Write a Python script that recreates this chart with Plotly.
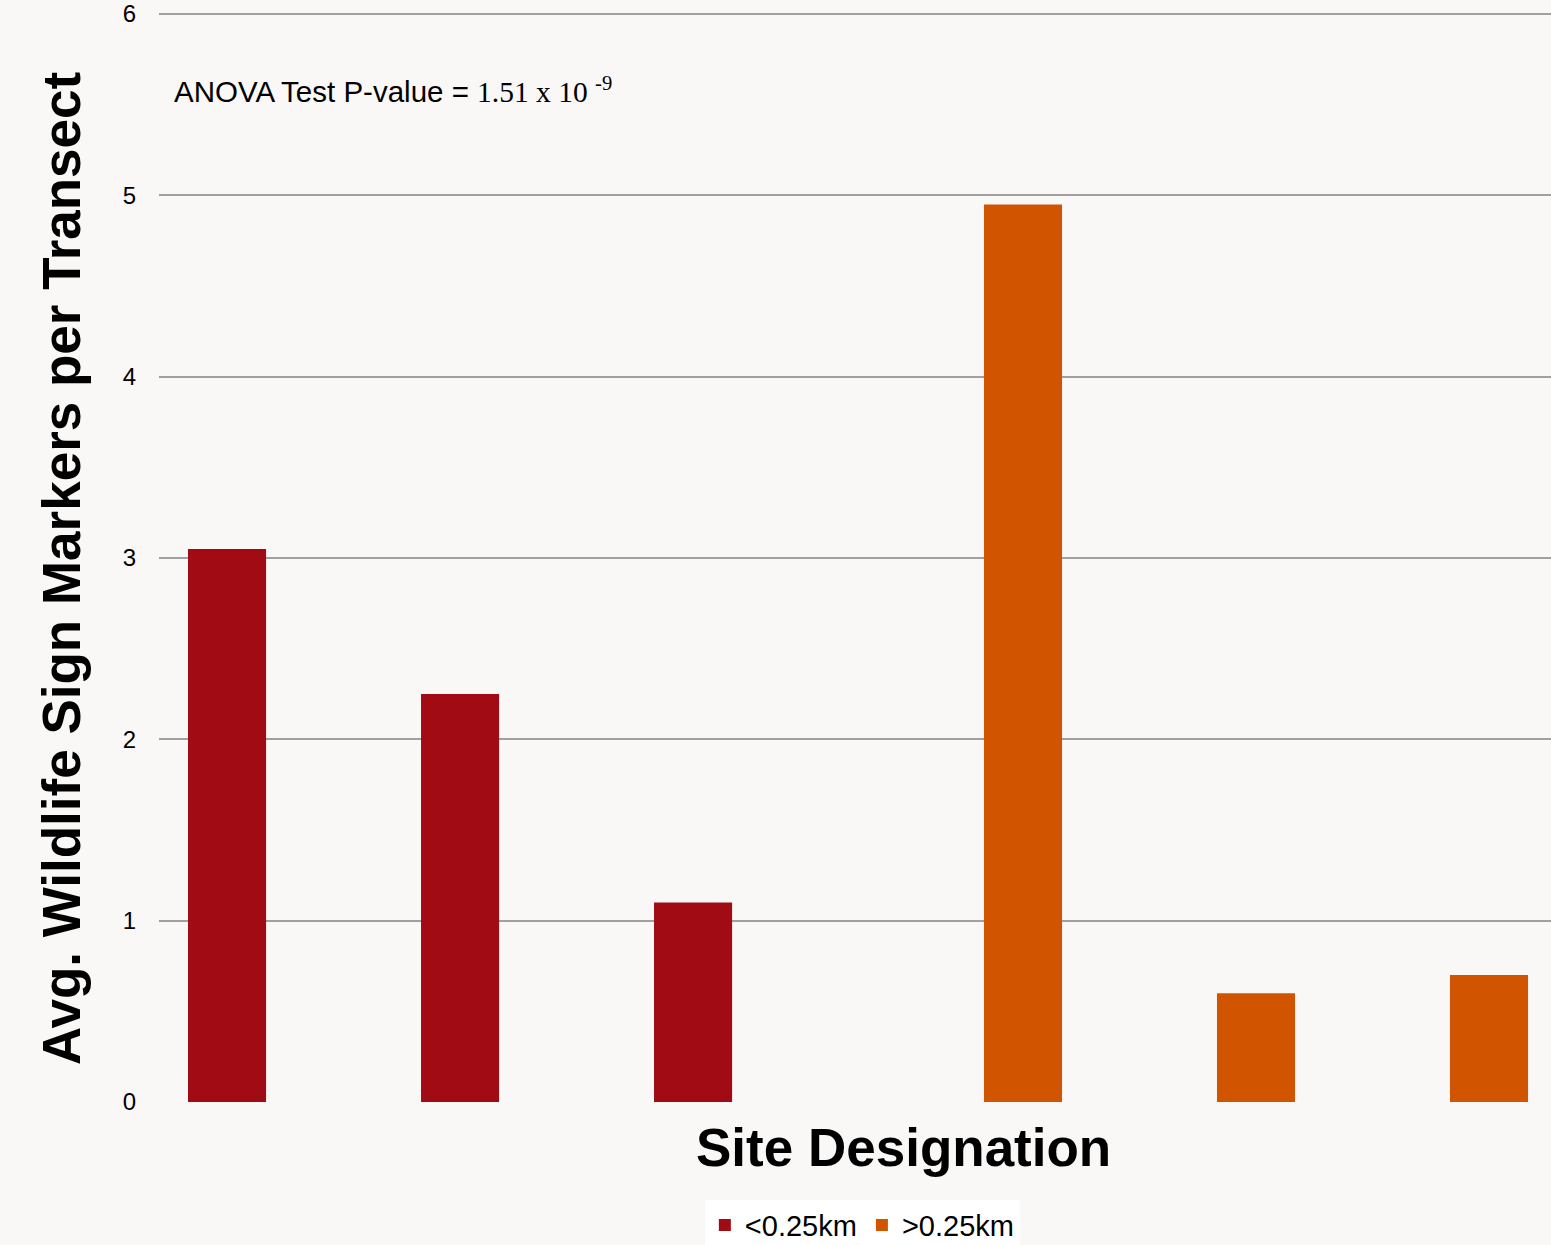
import plotly.graph_objects as go

sites = ["S1", "S2", "S3", "S4", "S5", "S6"]
near_sites = ["S1", "S2", "S3"]
near_values = [3.05, 2.25, 1.10]
far_sites = ["S4", "S5", "S6"]
far_values = [4.95, 0.60, 0.70]
y_ticks = [0, 1, 2, 3, 4, 5, 6]

BG = "#f9f8f7"
FONT = "Liberation Sans, Arial, sans-serif"
BAR_W = 0.335

fig = go.Figure()
fig.add_trace(go.Bar(x=near_sites, y=near_values, name="<0.25km",
                     width=BAR_W, offset=-0.3755,
                     marker=dict(color="#a10c14", line=dict(width=0))))
fig.add_trace(go.Bar(x=far_sites, y=far_values, name=">0.25km",
                     width=BAR_W, offset=0.0405,
                     marker=dict(color="#d15400", line=dict(width=0))))

fig.update_layout(
    width=1551, height=1245,
    margin=dict(l=159, r=0, t=10, b=143),
    paper_bgcolor=BG, plot_bgcolor=BG,
    barmode="overlay",
    font=dict(family=FONT, color="#000000"),
    showlegend=True,
    legend=dict(orientation="h", x=0.556, xref="container", xanchor="center",
                y=0.016, yref="container", yanchor="middle",
                font=dict(size=29, family=FONT), bgcolor="#ffffff"),
    xaxis=dict(type="category", categoryorder="array", categoryarray=sites,
               range=[-0.5, 5.474], showticklabels=False, showgrid=False,
               zeroline=False, showline=False, ticks=""),
    yaxis=dict(range=[0, 6.011], tickvals=y_ticks, showgrid=True,
               gridcolor="#a0a0a0", gridwidth=2, zeroline=False,
               showline=False, ticks="", ticklabelstandoff=22,
               ticklabeloverflow="allow",
               tickfont=dict(size=24, family=FONT, color="#000000")),
    annotations=[
        dict(text="<b>Avg. Wildlife Sign Markers per Transect</b>",
             xref="paper", yref="paper", x=-0.0697, y=0.49,
             xanchor="center", yanchor="middle", textangle=-90,
             showarrow=False, font=dict(size=53, family=FONT)),
        dict(text="<b>Site Designation</b>", xref="paper", yref="paper",
             x=0.5345, y=-0.042, xanchor="center", yanchor="middle",
             showarrow=False, font=dict(size=53, family=FONT)),
        dict(text='ANOVA Test P-value = <span style="font-family:Liberation Serif, Times New Roman, serif">1.51 x 10 <sup>-9</sup></span>',
             xref="paper", yref="paper", x=0.0093, y=0.928,
             xanchor="left", yanchor="middle", showarrow=False,
             font=dict(size=29.5, family=FONT)),
    ],
)

fig.write_html("out.html")
